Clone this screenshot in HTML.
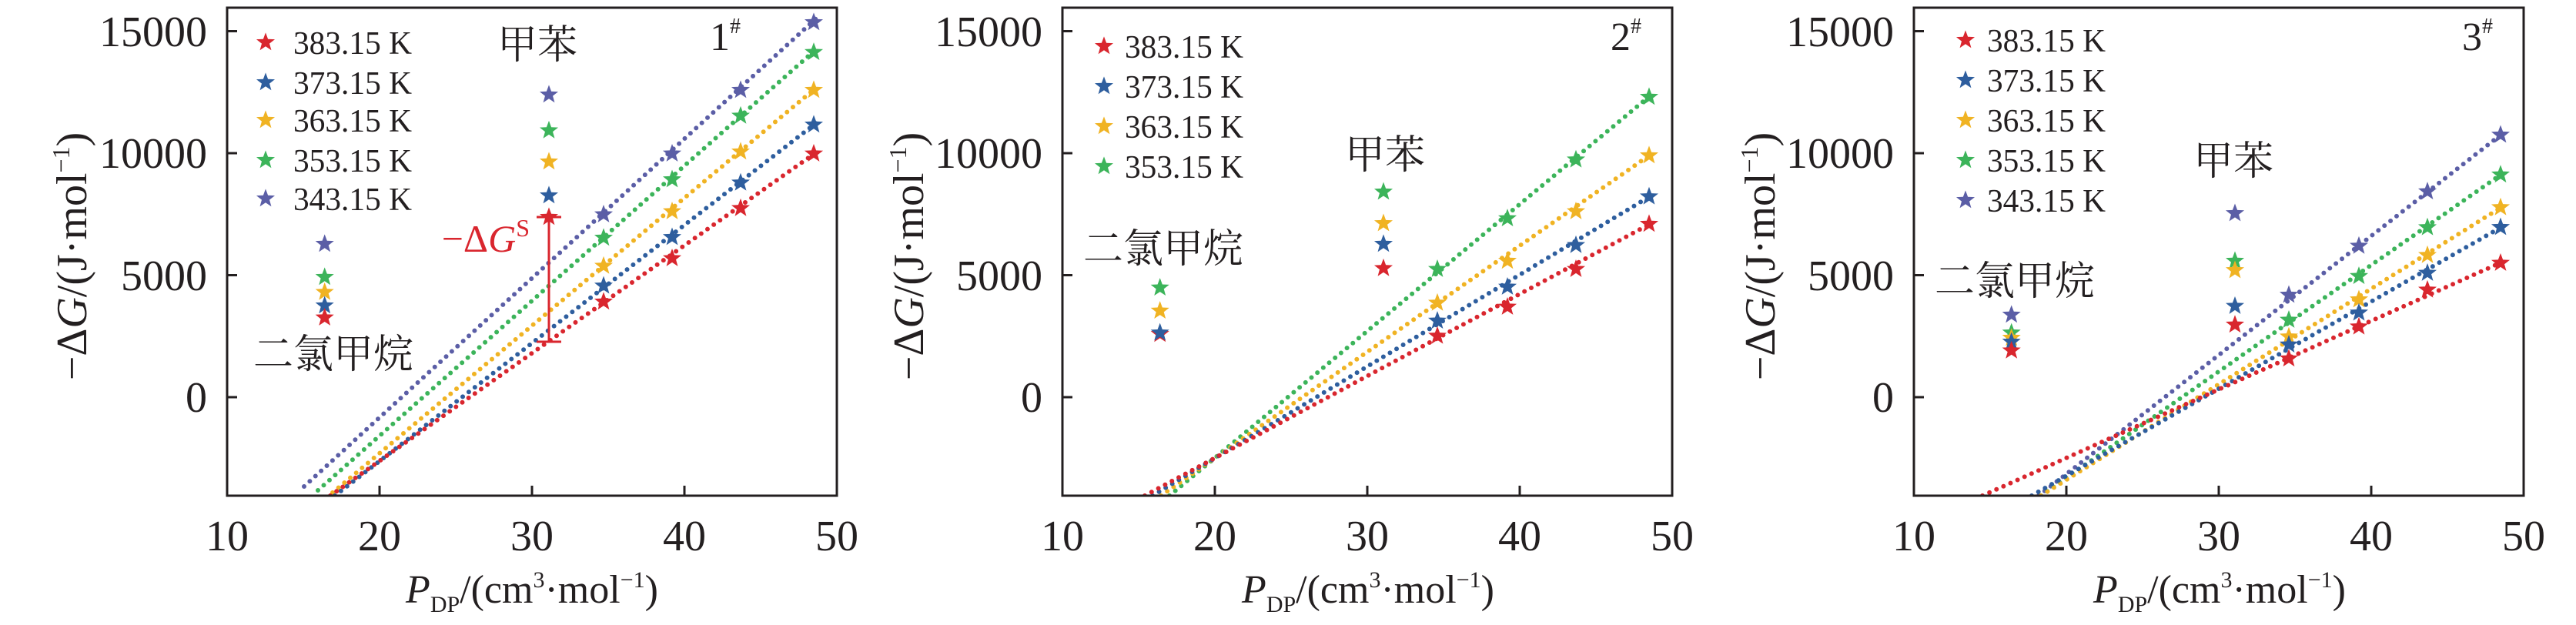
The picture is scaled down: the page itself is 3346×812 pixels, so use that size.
<!DOCTYPE html>
<html><head><meta charset="utf-8"><style>
html,body{margin:0;padding:0;background:#fff;}
svg{display:block;}
text{font-family:"Liberation Serif","Noto Serif CJK SC",serif;fill:#231f20;}
.cn{font-family:"Liberation Serif","Noto Serif CJK SC","Noto Sans CJK SC",serif;font-size:52px;}
.tk{font-size:56px;}
.lg{font-size:42px;}
.dl{fill:none;stroke-width:6;stroke-linecap:round;stroke-dasharray:0 10;}
</style></head><body>
<svg width="3346" height="812" viewBox="0 0 3346 812" xmlns="http://www.w3.org/2000/svg">
<defs>
<polygon id="s" transform="scale(1.15)" points="0,-11 2.7,-3.72 10.46,-3.4 4.37,1.42 6.47,8.9 0,4.6 -6.47,8.9 -4.37,1.42 -10.46,-3.4 -2.7,-3.72"/>
<clipPath id="c1"><rect x="295" y="10" width="792" height="634"/></clipPath>
<clipPath id="c2"><rect x="1380" y="10" width="792" height="634"/></clipPath>
<clipPath id="c3"><rect x="2486" y="10" width="792" height="634"/></clipPath>
</defs>

<!-- ================= PANEL 1 ================= -->
<g clip-path="url(#c1)">
<line class="dl" stroke="#5b5ea6" x1="395" y1="632" x2="1060" y2="24"/>
<line class="dl" stroke="#3cb45a" x1="413" y1="637" x2="1060" y2="64"/>
<line class="dl" stroke="#f0b323" x1="432" y1="640" x2="1060" y2="114"/>
<line class="dl" stroke="#2e5e9e" x1="435" y1="644" x2="1060" y2="160"/>
<line class="dl" stroke="#d9262e" x1="429" y1="644" x2="1060" y2="198"/>
</g>
<rect x="295" y="10" width="792" height="634" fill="none" stroke="#231f20" stroke-width="3"/>
<g stroke="#231f20" stroke-width="3">
<line x1="493" y1="644" x2="493" y2="631"/><line x1="691" y1="644" x2="691" y2="631"/><line x1="889" y1="644" x2="889" y2="631"/>
<line x1="295" y1="40.5" x2="308" y2="40.5"/><line x1="295" y1="199" x2="308" y2="199"/><line x1="295" y1="357.5" x2="308" y2="357.5"/><line x1="295" y1="516" x2="308" y2="516"/>
</g>
<g stroke="#d9262e" stroke-width="3">
<line x1="713" y1="282" x2="713" y2="444"/><line x1="697" y1="282" x2="729" y2="282"/><line x1="697" y1="444" x2="729" y2="444"/>
</g>
<text x="688" y="327" text-anchor="end" style="font-size:50px;fill:#d9262e">−Δ<tspan font-style="italic">G</tspan><tspan font-size="32" dy="-20">S</tspan></text>
<g>
<use href="#s" x="421.7" y="317" fill="#5b5ea6"/><use href="#s" x="421.7" y="360" fill="#3cb45a"/><use href="#s" x="421.7" y="379.5" fill="#f0b323"/><use href="#s" x="421.7" y="397" fill="#2e5e9e"/><use href="#s" x="421.7" y="412.7" fill="#d9262e"/>
<use href="#s" x="713" y="123" fill="#5b5ea6"/><use href="#s" x="713" y="169.5" fill="#3cb45a"/><use href="#s" x="713" y="210" fill="#f0b323"/><use href="#s" x="713" y="254" fill="#2e5e9e"/><use href="#s" x="713" y="282" fill="#d9262e"/>
<use href="#s" x="784" y="278.7" fill="#5b5ea6"/><use href="#s" x="784" y="309" fill="#3cb45a"/><use href="#s" x="784" y="345.5" fill="#f0b323"/><use href="#s" x="784" y="371.3" fill="#2e5e9e"/><use href="#s" x="784" y="392" fill="#d9262e"/>
<use href="#s" x="873" y="199.6" fill="#5b5ea6"/><use href="#s" x="873" y="233.2" fill="#3cb45a"/><use href="#s" x="873" y="274.6" fill="#f0b323"/><use href="#s" x="873" y="308.2" fill="#2e5e9e"/><use href="#s" x="873" y="335.6" fill="#d9262e"/>
<use href="#s" x="962" y="117" fill="#5b5ea6"/><use href="#s" x="962" y="150.5" fill="#3cb45a"/><use href="#s" x="962" y="197" fill="#f0b323"/><use href="#s" x="962" y="237.4" fill="#2e5e9e"/><use href="#s" x="962" y="270.5" fill="#d9262e"/>
<use href="#s" x="1057" y="29" fill="#5b5ea6"/><use href="#s" x="1057" y="67.8" fill="#3cb45a"/><use href="#s" x="1057" y="117" fill="#f0b323"/><use href="#s" x="1057" y="162" fill="#2e5e9e"/><use href="#s" x="1057" y="199.6" fill="#d9262e"/>
</g>
<g>
<use href="#s" x="345" y="55" fill="#d9262e"/><use href="#s" x="345" y="107" fill="#2e5e9e"/><use href="#s" x="345" y="156" fill="#f0b323"/><use href="#s" x="345" y="208" fill="#3cb45a"/><use href="#s" x="345" y="258" fill="#5b5ea6"/>
<text class="lg" x="381" y="70" textLength="154" lengthAdjust="spacingAndGlyphs">383.15 K</text>
<text class="lg" x="381" y="122" textLength="154" lengthAdjust="spacingAndGlyphs">373.15 K</text>
<text class="lg" x="381" y="171" textLength="154" lengthAdjust="spacingAndGlyphs">363.15 K</text>
<text class="lg" x="381" y="223" textLength="154" lengthAdjust="spacingAndGlyphs">353.15 K</text>
<text class="lg" x="381" y="273" textLength="154" lengthAdjust="spacingAndGlyphs">343.15 K</text>
</g>
<text class="cn" x="698" y="76" text-anchor="middle">甲苯</text>
<text class="cn" x="433" y="478" text-anchor="middle">二氯甲烷</text>
<text x="922" y="65" style="font-size:52px">1<tspan font-size="28" dy="-22">#</tspan></text>
<g class="tk" text-anchor="end">
<text x="269" y="60">15000</text><text x="269" y="218">10000</text><text x="269" y="377">5000</text><text x="269" y="535">0</text>
</g>
<g class="tk" text-anchor="middle">
<text x="295" y="715">10</text><text x="493" y="715">20</text><text x="691" y="715">30</text><text x="889" y="715">40</text><text x="1087" y="715">50</text>
</g>
<text x="691" y="783" text-anchor="middle" style="font-size:52px"><tspan font-style="italic">P</tspan><tspan font-size="30" dy="12">DP</tspan><tspan dy="-12">/(cm</tspan><tspan font-size="30" dy="-20">3</tspan><tspan dy="20">·mol</tspan><tspan font-size="30" dy="-20">−1</tspan><tspan dy="20">)</tspan></text>
<text transform="translate(112,333) rotate(-90)" text-anchor="middle" style="font-size:56px">−Δ<tspan font-style="italic">G</tspan>/(J·mol<tspan font-size="32" dy="-22">−1</tspan><tspan dy="22">)</tspan></text>

<!-- ================= PANEL 2 ================= -->
<g clip-path="url(#c2)">
<line class="dl" stroke="#3cb45a" x1="1519" y1="644" x2="2145" y2="123"/>
<line class="dl" stroke="#f0b323" x1="1508" y1="644" x2="2145" y2="200"/>
<line class="dl" stroke="#2e5e9e" x1="1497" y1="644" x2="2145" y2="254"/>
<line class="dl" stroke="#d9262e" x1="1487" y1="644" x2="2145" y2="290"/>
</g>
<rect x="1380" y="10" width="792" height="634" fill="none" stroke="#231f20" stroke-width="3"/>
<g stroke="#231f20" stroke-width="3">
<line x1="1578" y1="644" x2="1578" y2="631"/><line x1="1776" y1="644" x2="1776" y2="631"/><line x1="1974" y1="644" x2="1974" y2="631"/>
<line x1="1380" y1="40.5" x2="1393" y2="40.5"/><line x1="1380" y1="199" x2="1393" y2="199"/><line x1="1380" y1="357.5" x2="1393" y2="357.5"/><line x1="1380" y1="516" x2="1393" y2="516"/>
</g>
<g>
<use href="#s" x="1506.7" y="373.8" fill="#3cb45a"/><use href="#s" x="1506.7" y="403.8" fill="#f0b323"/><use href="#s" x="1506.7" y="434" fill="#d9262e"/><use href="#s" x="1506.7" y="432.3" fill="#2e5e9e"/>
<use href="#s" x="1797" y="249.2" fill="#3cb45a"/><use href="#s" x="1797" y="290.1" fill="#f0b323"/><use href="#s" x="1797" y="317" fill="#2e5e9e"/><use href="#s" x="1797" y="348.5" fill="#d9262e"/>
<use href="#s" x="1867" y="349.6" fill="#3cb45a"/><use href="#s" x="1867" y="393.5" fill="#f0b323"/><use href="#s" x="1867" y="416.8" fill="#2e5e9e"/><use href="#s" x="1867" y="436.4" fill="#d9262e"/>
<use href="#s" x="1958" y="283.8" fill="#3cb45a"/><use href="#s" x="1958" y="339" fill="#f0b323"/><use href="#s" x="1958" y="372.7" fill="#2e5e9e"/><use href="#s" x="1958" y="398.7" fill="#d9262e"/>
<use href="#s" x="2047" y="207.4" fill="#3cb45a"/><use href="#s" x="2047" y="274.6" fill="#f0b323"/><use href="#s" x="2047" y="318.5" fill="#2e5e9e"/><use href="#s" x="2047" y="349.6" fill="#d9262e"/>
<use href="#s" x="2142" y="126" fill="#3cb45a"/><use href="#s" x="2142" y="202" fill="#f0b323"/><use href="#s" x="2142" y="255.4" fill="#2e5e9e"/><use href="#s" x="2142" y="291" fill="#d9262e"/>
</g>
<g>
<use href="#s" x="1434" y="60" fill="#d9262e"/><use href="#s" x="1434" y="112" fill="#2e5e9e"/><use href="#s" x="1434" y="164" fill="#f0b323"/><use href="#s" x="1434" y="216" fill="#3cb45a"/>
<text class="lg" x="1461" y="75" textLength="154" lengthAdjust="spacingAndGlyphs">383.15 K</text>
<text class="lg" x="1461" y="127" textLength="154" lengthAdjust="spacingAndGlyphs">373.15 K</text>
<text class="lg" x="1461" y="179" textLength="154" lengthAdjust="spacingAndGlyphs">363.15 K</text>
<text class="lg" x="1461" y="231" textLength="154" lengthAdjust="spacingAndGlyphs">353.15 K</text>
</g>
<text class="cn" x="1799" y="219" text-anchor="middle">甲苯</text>
<text class="cn" x="1511" y="341" text-anchor="middle">二氯甲烷</text>
<text x="2092" y="65" style="font-size:52px">2<tspan font-size="28" dy="-22">#</tspan></text>
<g class="tk" text-anchor="end">
<text x="1354" y="60">15000</text><text x="1354" y="218">10000</text><text x="1354" y="377">5000</text><text x="1354" y="535">0</text>
</g>
<g class="tk" text-anchor="middle">
<text x="1380" y="715">10</text><text x="1578" y="715">20</text><text x="1776" y="715">30</text><text x="1974" y="715">40</text><text x="2172" y="715">50</text>
</g>
<text x="1777" y="783" text-anchor="middle" style="font-size:52px"><tspan font-style="italic">P</tspan><tspan font-size="30" dy="12">DP</tspan><tspan dy="-12">/(cm</tspan><tspan font-size="30" dy="-20">3</tspan><tspan dy="20">·mol</tspan><tspan font-size="30" dy="-20">−1</tspan><tspan dy="20">)</tspan></text>
<text transform="translate(1199,333) rotate(-90)" text-anchor="middle" style="font-size:56px">−Δ<tspan font-style="italic">G</tspan>/(J·mol<tspan font-size="32" dy="-22">−1</tspan><tspan dy="22">)</tspan></text>

<!-- ================= PANEL 3 ================= -->
<g clip-path="url(#c3)">
<line class="dl" stroke="#5b5ea6" x1="2648" y1="644" x2="3251" y2="173"/>
<line class="dl" stroke="#3cb45a" x1="2651" y1="644" x2="3251" y2="225"/>
<line class="dl" stroke="#f0b323" x1="2651" y1="644" x2="3251" y2="268"/>
<line class="dl" stroke="#2e5e9e" x1="2639" y1="644" x2="3251" y2="294"/>
<line class="dl" stroke="#d9262e" x1="2575" y1="644" x2="3251" y2="340"/>
</g>
<rect x="2486" y="10" width="792" height="634" fill="none" stroke="#231f20" stroke-width="3"/>
<g stroke="#231f20" stroke-width="3">
<line x1="2684" y1="644" x2="2684" y2="631"/><line x1="2882" y1="644" x2="2882" y2="631"/><line x1="3080" y1="644" x2="3080" y2="631"/>
<line x1="2486" y1="40.5" x2="2499" y2="40.5"/><line x1="2486" y1="199" x2="2499" y2="199"/><line x1="2486" y1="357.5" x2="2499" y2="357.5"/><line x1="2486" y1="516" x2="2499" y2="516"/>
</g>
<g>
<use href="#s" x="2612.7" y="409" fill="#5b5ea6"/><use href="#s" x="2612.7" y="432.3" fill="#3cb45a"/><use href="#s" x="2612.7" y="439" fill="#f0b323"/><use href="#s" x="2612.7" y="444.2" fill="#2e5e9e"/><use href="#s" x="2612.7" y="455.5" fill="#d9262e"/>
<use href="#s" x="2903" y="277.1" fill="#5b5ea6"/><use href="#s" x="2903" y="339" fill="#3cb45a"/><use href="#s" x="2903" y="351.2" fill="#f0b323"/><use href="#s" x="2903" y="397.6" fill="#2e5e9e"/><use href="#s" x="2903" y="421.9" fill="#d9262e"/>
<use href="#s" x="2973" y="383.2" fill="#5b5ea6"/><use href="#s" x="2973" y="415.7" fill="#3cb45a"/><use href="#s" x="2973" y="437.4" fill="#f0b323"/><use href="#s" x="2973" y="447.8" fill="#2e5e9e"/><use href="#s" x="2973" y="465.9" fill="#d9262e"/>
<use href="#s" x="3064" y="319.5" fill="#5b5ea6"/><use href="#s" x="3064" y="358.8" fill="#3cb45a"/><use href="#s" x="3064" y="389.2" fill="#f0b323"/><use href="#s" x="3064" y="406.3" fill="#2e5e9e"/><use href="#s" x="3064" y="424.4" fill="#d9262e"/>
<use href="#s" x="3153" y="248.8" fill="#5b5ea6"/><use href="#s" x="3153" y="295.4" fill="#3cb45a"/><use href="#s" x="3153" y="331.5" fill="#f0b323"/><use href="#s" x="3153" y="354.6" fill="#2e5e9e"/><use href="#s" x="3153" y="376.5" fill="#d9262e"/>
<use href="#s" x="3248" y="175.2" fill="#5b5ea6"/><use href="#s" x="3248" y="226.9" fill="#3cb45a"/><use href="#s" x="3248" y="269.4" fill="#f0b323"/><use href="#s" x="3248" y="295.2" fill="#2e5e9e"/><use href="#s" x="3248" y="341.6" fill="#d9262e"/>
</g>
<g>
<use href="#s" x="2553" y="52" fill="#d9262e"/><use href="#s" x="2553" y="104" fill="#2e5e9e"/><use href="#s" x="2553" y="156" fill="#f0b323"/><use href="#s" x="2553" y="208" fill="#3cb45a"/><use href="#s" x="2553" y="260" fill="#5b5ea6"/>
<text class="lg" x="2581" y="67" textLength="154" lengthAdjust="spacingAndGlyphs">383.15 K</text>
<text class="lg" x="2581" y="119" textLength="154" lengthAdjust="spacingAndGlyphs">373.15 K</text>
<text class="lg" x="2581" y="171" textLength="154" lengthAdjust="spacingAndGlyphs">363.15 K</text>
<text class="lg" x="2581" y="223" textLength="154" lengthAdjust="spacingAndGlyphs">353.15 K</text>
<text class="lg" x="2581" y="275" textLength="154" lengthAdjust="spacingAndGlyphs">343.15 K</text>
</g>
<text class="cn" x="2901" y="227" text-anchor="middle">甲苯</text>
<text class="cn" x="2617" y="383" text-anchor="middle">二氯甲烷</text>
<text x="3198" y="65" style="font-size:52px">3<tspan font-size="28" dy="-22">#</tspan></text>
<g class="tk" text-anchor="end">
<text x="2460" y="60">15000</text><text x="2460" y="218">10000</text><text x="2460" y="377">5000</text><text x="2460" y="535">0</text>
</g>
<g class="tk" text-anchor="middle">
<text x="2486" y="715">10</text><text x="2684" y="715">20</text><text x="2882" y="715">30</text><text x="3080" y="715">40</text><text x="3278" y="715">50</text>
</g>
<text x="2883" y="783" text-anchor="middle" style="font-size:52px"><tspan font-style="italic">P</tspan><tspan font-size="30" dy="12">DP</tspan><tspan dy="-12">/(cm</tspan><tspan font-size="30" dy="-20">3</tspan><tspan dy="20">·mol</tspan><tspan font-size="30" dy="-20">−1</tspan><tspan dy="20">)</tspan></text>
<text transform="translate(2305,333) rotate(-90)" text-anchor="middle" style="font-size:56px">−Δ<tspan font-style="italic">G</tspan>/(J·mol<tspan font-size="32" dy="-22">−1</tspan><tspan dy="22">)</tspan></text>
</svg>
</body></html>
